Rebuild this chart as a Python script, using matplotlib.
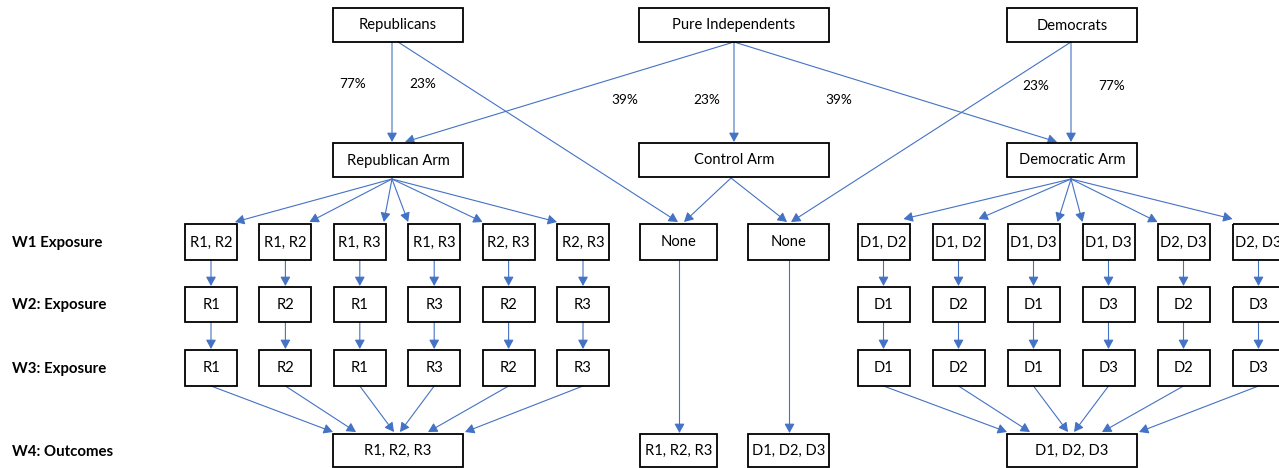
import matplotlib
matplotlib.use("Agg")
import matplotlib.pyplot as plt
from matplotlib.patches import Rectangle, FancyArrowPatch

plt.rcParams['font.family'] = ['Lato', 'DejaVu Sans']

# text of the diagram
top_labels = ["Republicans", "Pure Independents", "Democrats"]
arm_labels = ["Republican Arm", "Control Arm", "Democratic Arm"]
row_labels = ["W1 Exposure", "W2: Exposure", "W3: Exposure", "W4: Outcomes"]
rep_w1 = ["R1, R2", "R1, R2", "R1, R3", "R1, R3", "R2, R3", "R2, R3"]
rep_w2 = ["R1", "R2", "R1", "R3", "R2", "R3"]
rep_w3 = ["R1", "R2", "R1", "R3", "R2", "R3"]
dem_w1 = ["D1, D2", "D1, D2", "D1, D3", "D1, D3", "D2, D3", "D2, D3"]
dem_w2 = ["D1", "D2", "D1", "D3", "D2", "D3"]
dem_w3 = ["D1", "D2", "D1", "D3", "D2", "D3"]
ctrl_w1 = ["None", "None"]
ctrl_w4 = ["R1, R2, R3", "D1, D2, D3"]
rep_w4 = "R1, R2, R3"
dem_w4 = "D1, D2, D3"
pct_rep = ["77%", "23%"]
pct_ind = ["39%", "23%", "39%"]
pct_dem = ["23%", "77%"]

BLUE = "#4472C4"

fig = plt.figure(figsize=(12.79, 4.68), dpi=100)
ax = fig.add_axes([0, 0, 1, 1])
ax.set_xlim(0, 1279)
ax.set_ylim(468, 0)
ax.axis("off")

# layout (pixels)
big_x = [398, 734, 1072]
big_w = [130, 190, 130]
rows_y = {"top": (8, 42), "arm": (143, 177), "w1": (224, 260),
          "w2": (287, 322), "w3": (350, 386), "w4": (434, 467)}
rep_cx = [211 + 74.4 * i for i in range(6)]
dem_cx = [883.5 + 75 * i for i in range(6)]
ctrl_cx = [678.5, 788.5]
ctrl_w = [77, 81]
small_w = 52


def box(cx, w, row, text):
    y0, y1 = rows_y[row]
    ax.add_patch(Rectangle((cx - w / 2, y0), w, y1 - y0, fill=False,
                           edgecolor="black", lw=1.3, zorder=3))
    ax.text(cx, (y0 + y1) / 2 + 0.5, text, ha="center", va="center",
            fontsize=10.6, zorder=4)


def arrow(p0, p1):
    ax.add_patch(FancyArrowPatch(p0, p1, arrowstyle="-|>,head_length=0.55,head_width=0.3",
                                 mutation_scale=10, color=BLUE, lw=0.8,
                                 shrinkA=0, shrinkB=0, zorder=2))


for i in range(3):
    box(big_x[i], big_w[i], "top", top_labels[i])
    box(big_x[i], big_w[i], "arm", arm_labels[i])

for i in range(6):
    box(rep_cx[i], small_w, "w1", rep_w1[i])
    box(rep_cx[i], small_w, "w2", rep_w2[i])
    box(rep_cx[i], small_w, "w3", rep_w3[i])
    box(dem_cx[i], small_w, "w1", dem_w1[i])
    box(dem_cx[i], small_w, "w2", dem_w2[i])
    box(dem_cx[i], small_w, "w3", dem_w3[i])

for i in range(2):
    box(ctrl_cx[i], ctrl_w[i], "w1", ctrl_w1[i])
    box(ctrl_cx[i], ctrl_w[i], "w4", ctrl_w4[i])

box(big_x[0], 130, "w4", rep_w4)
box(big_x[2], 130, "w4", dem_w4)

for lab, row in zip(row_labels, ["w1", "w2", "w3", "w4"]):
    y0, y1 = rows_y[row]
    ax.text(12, (y0 + y1) / 2 + 1, lab, ha="left", va="center",
            fontsize=10.8, fontweight="bold")

# top level assignment arrows
top_b = rows_y["top"][1]
arm_t = rows_y["arm"][0] - 1
w1_t = rows_y["w1"][0] - 2
arrow((392, top_b), (392, arm_t))
arrow((398, top_b), (678, w1_t))
arrow((734, top_b), (405, arm_t))
arrow((734, top_b), (734, arm_t))
arrow((734, top_b), (1057, arm_t))
arrow((1071, top_b), (1071, arm_t))
arrow((1071, top_b), (791, w1_t))

# control arm to None boxes
arm_b = rows_y["arm"][1] + 1
arrow((731, arm_b), (684, w1_t))
arrow((731, arm_b), (787, w1_t))

# fans from treatment arms
fan_off = [24, 24, 24, -26, -26, -26]
for i in range(6):
    arrow((392, arm_b + 1), (rep_cx[i] + fan_off[i], w1_t))
    arrow((1071, arm_b + 1), (dem_cx[i] + fan_off[i] + (-4 if i < 2 else 0), w1_t - (3 if i in (0, 1, 5) else 0)))

# wave to wave
for cxs in (rep_cx, dem_cx):
    for cx in cxs:
        arrow((cx, rows_y["w1"][1]), (cx, rows_y["w2"][0] - 1))
        arrow((cx, rows_y["w2"][1]), (cx, rows_y["w3"][0] - 1))

# into outcome boxes
out_off = [-65, -42, -4, 2, 30, 67]
w4_t = rows_y["w4"][0] - 2
for i in range(6):
    arrow((rep_cx[i], rows_y["w3"][1]), (big_x[0] + out_off[i], w4_t))
    arrow((dem_cx[i], rows_y["w3"][1]), (big_x[2] + out_off[i], w4_t))
for cx in ctrl_cx:
    arrow((cx + 1, rows_y["w1"][1]), (cx + 1, rows_y["w4"][0] - 1))

# percentages
for t, x in zip(pct_rep, [353, 423]):
    ax.text(x, 84, t, ha="center", va="center", fontsize=9.8)
for t, x in zip(pct_ind, [625, 707, 839]):
    ax.text(x, 100, t, ha="center", va="center", fontsize=9.8)
for t, x in zip(pct_dem, [1036, 1112]):
    ax.text(x, 86, t, ha="center", va="center", fontsize=9.8)

fig.savefig("out.png", dpi=100)
